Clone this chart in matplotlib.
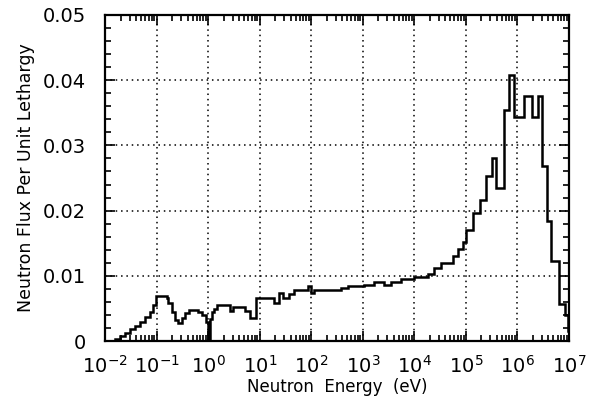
import numpy as np
import matplotlib
matplotlib.use("Agg")
from matplotlib import pyplot as plt
from matplotlib.ticker import LogLocator, MultipleLocator, NullFormatter

# bin edges as log10(E / eV)
log_edges = [-2.0, -1.81, -1.71, -1.61, -1.51, -1.42, -1.32, -1.22, -1.13, -1.07,
             -1.02, -0.80, -0.77, -0.70, -0.64, -0.58, -0.50, -0.44, -0.38, -0.31,
             -0.19, -0.11, -0.05, -0.01, 0.04, 0.08, 0.12, 0.18, 0.43, 0.49,
             0.72, 0.82, 0.92, 1.27, 1.37, 1.46, 1.56, 1.66, 1.93, 1.99,
             2.05, 2.57, 2.71, 3.02, 3.21, 3.41, 3.54, 3.74, 3.99, 4.26,
             4.38, 4.52, 4.75, 4.85, 4.95, 5.00, 5.14, 5.28, 5.39, 5.51,
             5.59, 5.74, 5.84, 5.94, 6.13, 6.29, 6.39, 6.48, 6.58, 6.66,
             6.81, 6.93, 6.98, 7.00]

flux = [0.0000, 0.0003, 0.0008, 0.0012, 0.0018, 0.0023, 0.0030, 0.0037, 0.0045,
        0.0056, 0.0069, 0.0066, 0.0058, 0.0045, 0.0032, 0.0028, 0.0036, 0.0043, 0.0047,
        0.0048, 0.0045, 0.0040, 0.0030, 0.0003, 0.0034, 0.0045, 0.0050, 0.0055, 0.0046,
        0.0053, 0.0046, 0.0036, 0.0066, 0.0058, 0.0074, 0.0066, 0.0072, 0.0078, 0.0085,
        0.0074, 0.0078, 0.0081, 0.0084, 0.0086, 0.0091, 0.0086, 0.0091, 0.0095, 0.0099,
        0.0103, 0.0112, 0.0120, 0.0131, 0.0141, 0.0152, 0.0171, 0.0196, 0.0217, 0.0253,
        0.0280, 0.0235, 0.0354, 0.0408, 0.0343, 0.0375, 0.0343, 0.0375, 0.0269, 0.0184,
        0.0123, 0.0057, 0.0040, 0.0015]

decades = [-2, -1, 0, 1, 2, 3, 4, 5, 6, 7]
x_labels = ['$10^{%d}$' % d for d in decades]
y_ticks = [0, 0.01, 0.02, 0.03, 0.04, 0.05]
y_labels = ['0', '0.01', '0.02', '0.03', '0.04', '0.05']

plt.rcParams['font.family'] = ['DejaVu Sans']
plt.rcParams['mathtext.default'] = 'regular'

fig = plt.figure(figsize=(5.97, 4.12), dpi=100)
ax = fig.add_axes([0.176, 0.172, 0.777, 0.792])

edges = 10.0 ** np.array(log_edges)
ax.stairs(flux, edges, baseline=0, color='black', linewidth=1.8)

ax.set_xscale('log')
ax.set_xlim(1e-2, 1e7)
ax.set_ylim(0, 0.05)

ax.set_xticks([10.0 ** d for d in decades], x_labels)
ax.xaxis.set_minor_locator(LogLocator(base=10, subs=np.arange(2, 10), numticks=20))
ax.xaxis.set_minor_formatter(NullFormatter())
ax.set_yticks(y_ticks, y_labels)
ax.yaxis.set_minor_locator(MultipleLocator(0.002))

ax.tick_params(which='both', direction='in', top=True, right=True, labelsize=14, width=1.2)
ax.tick_params(which='major', length=7)
ax.tick_params(which='minor', length=4)
ax.tick_params(axis='x', pad=10)
ax.tick_params(axis='y', pad=14)

for s in ax.spines.values():
    s.set_linewidth(1.6)

ax.grid(True, which='major', color='black', linestyle=(0, (1, 2.5)), linewidth=1.1)

ax.set_xlabel('Neutron  Energy  (eV)', fontsize=12, labelpad=1)
ax.set_ylabel('Neutron Flux Per Unit Lethargy', fontsize=12.5, labelpad=5)

fig.savefig('out.png', dpi=100)
